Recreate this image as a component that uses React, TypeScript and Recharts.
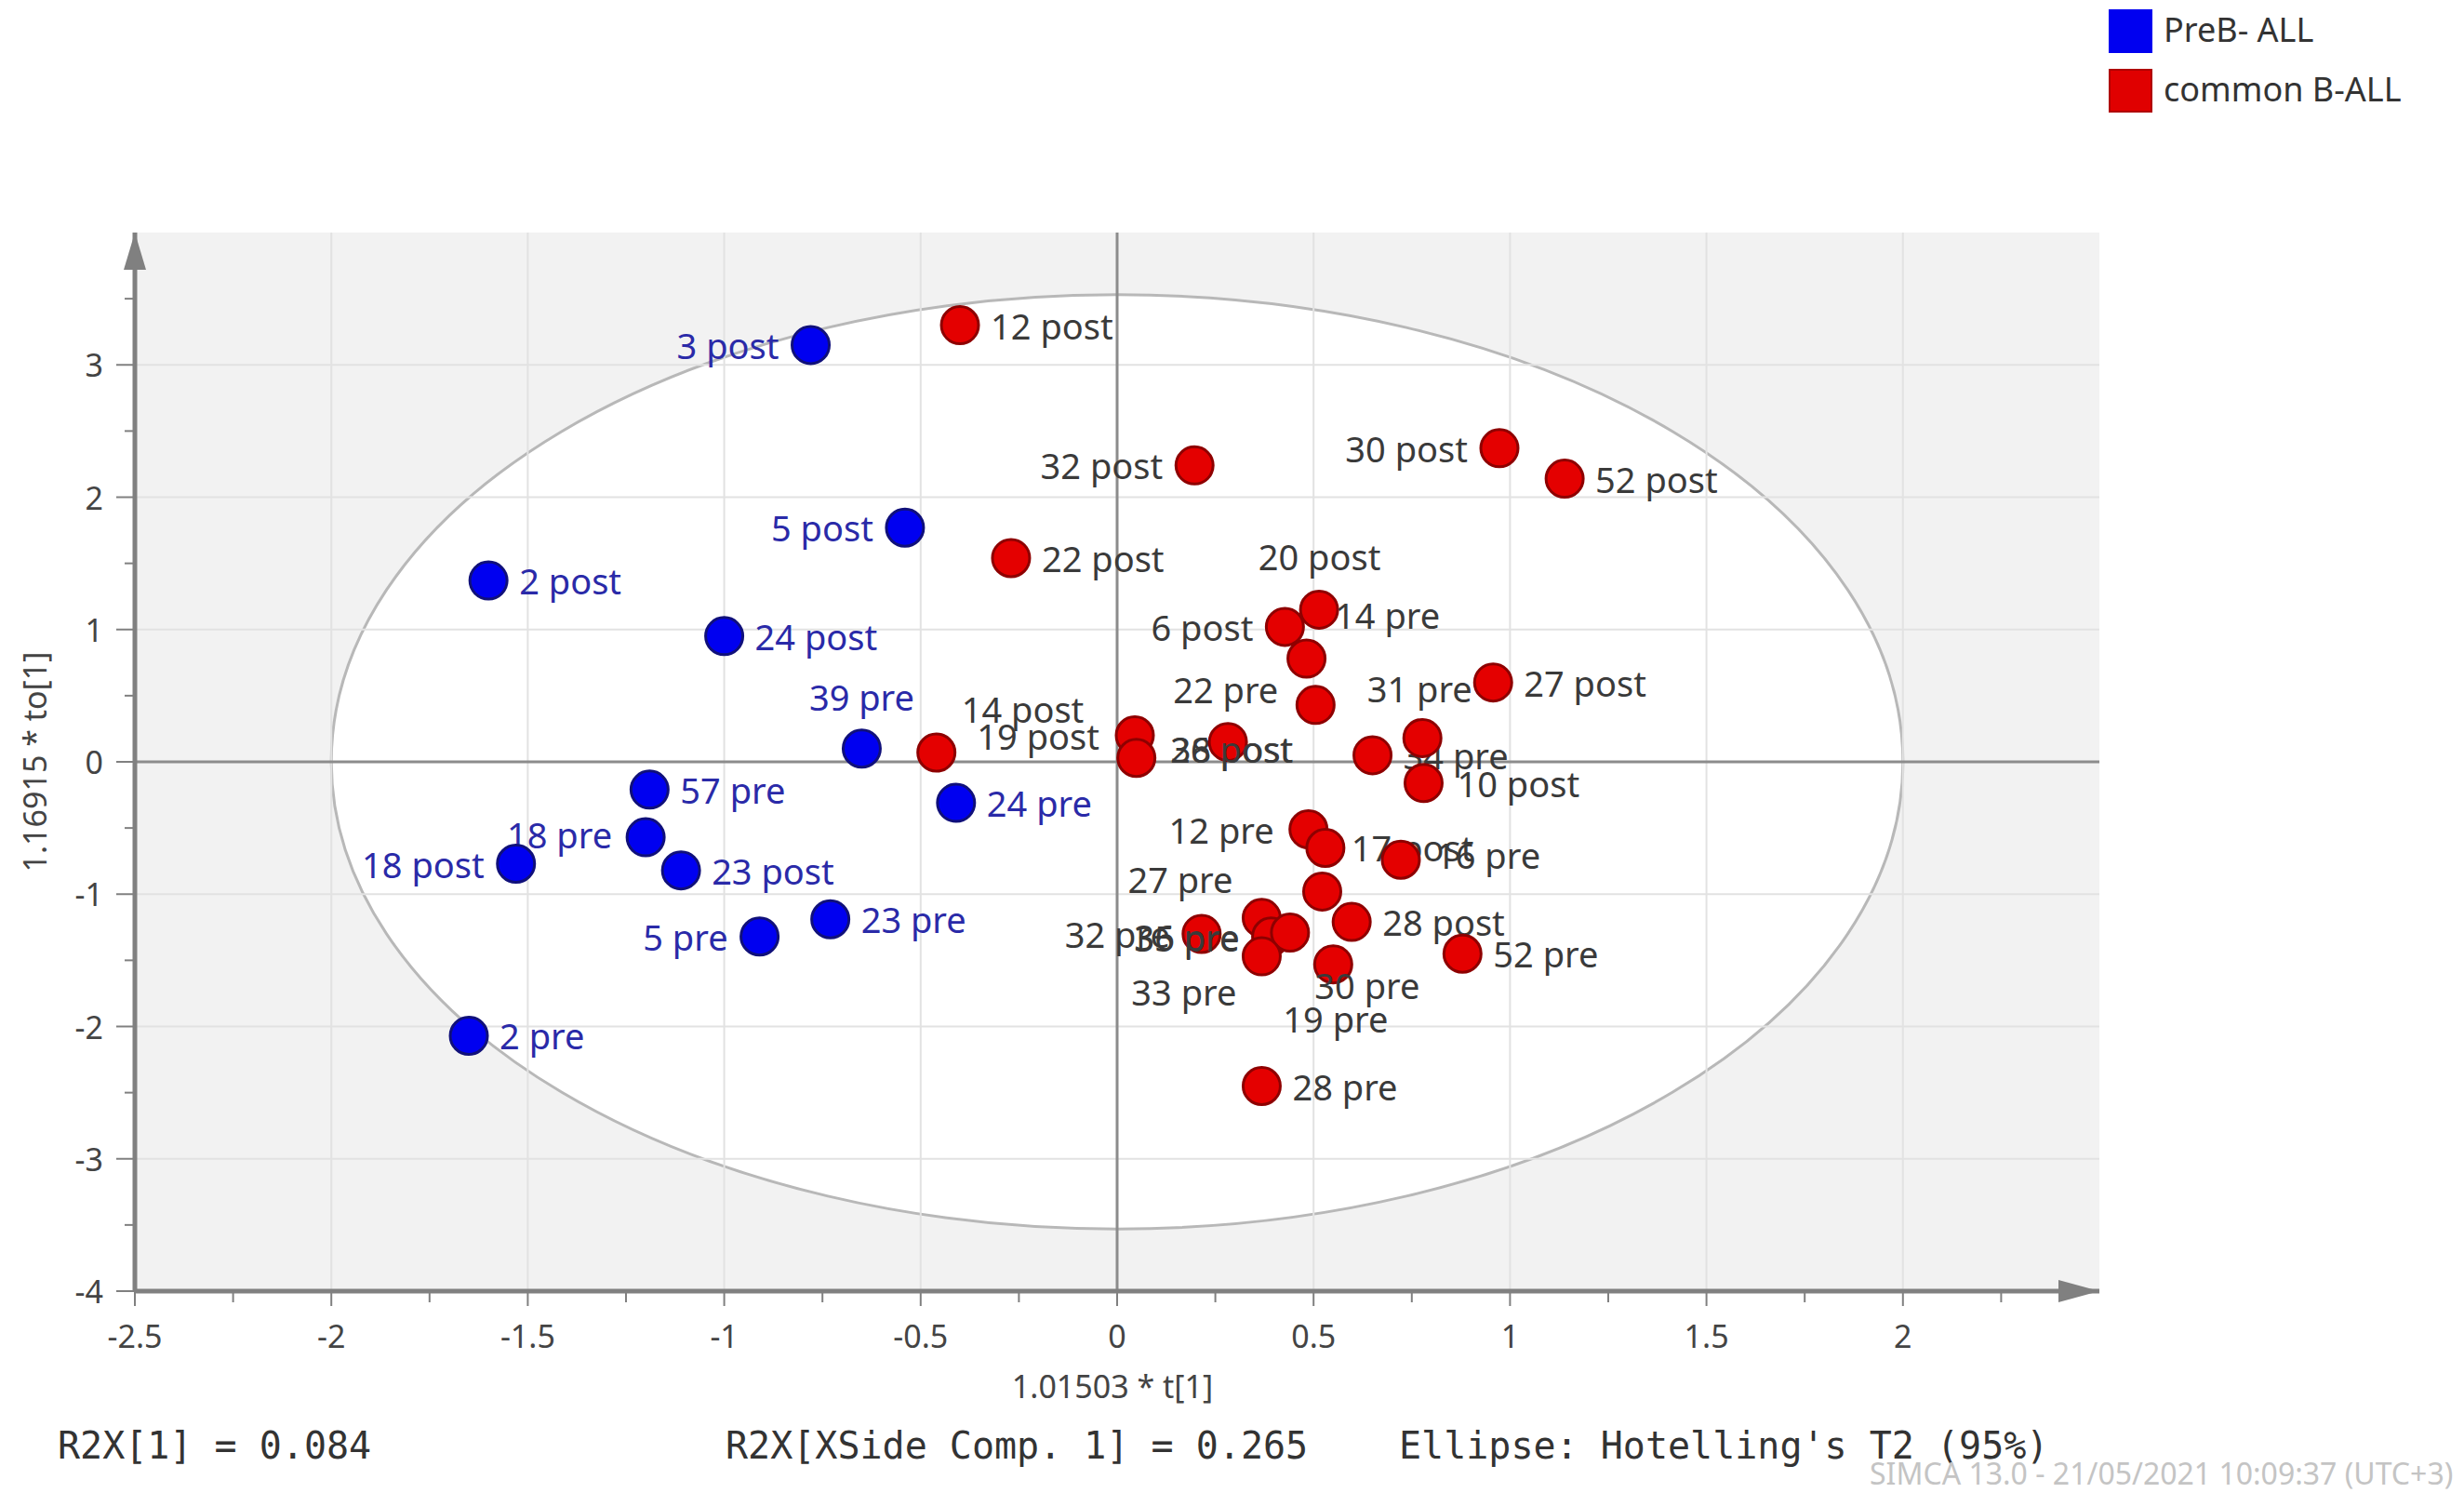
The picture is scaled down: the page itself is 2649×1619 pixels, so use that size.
import {
  ScatterChart,
  Scatter,
  XAxis,
  YAxis,
  ReferenceLine,
  ReferenceArea,
  ReferenceDot,
} from "recharts";

// PreB- ALL (blue)
const preBNames = ["3 post", "5 post", "2 post", "24 post", "39 pre", "57 pre", "18 pre", "18 post", "23 post", "24 pre", "23 pre", "5 pre", "2 pre"];
const preBX = [-0.78, -0.54, -1.6, -1.0, -0.65, -1.19, -1.2, -1.53, -1.11, -0.41, -0.73, -0.91, -1.65];
const preBY = [3.15, 1.77, 1.37, 0.95, 0.1, -0.21, -0.57, -0.77, -0.82, -0.31, -1.19, -1.32, -2.07];

// common B-ALL (red)
const commonNames = [
  "12 post", "32 post", "30 post", "52 post", "22 post", "14 pre", "6 post", "20 post",
  "22 pre", "27 post", "14 post", "19 post", "38 post", "26 post", "34 pre", "31 pre",
  "10 post", "12 pre", "17 post", "16 pre", "27 pre", "28 post", "32 pre", "35 pre",
  "36 pre", "19 pre", "33 pre", "30 pre", "52 pre", "28 pre",
];
const commonX = [
  -0.4, 0.197, 0.973, 1.139, -0.27, 0.514, 0.427, 0.482,
  0.505, 0.957, -0.46, 0.045, 0.049, 0.282, 0.65, 0.777,
  0.78, 0.487, 0.53, 0.722, 0.522, 0.597, 0.215, 0.368,
  0.392, 0.44, 0.368, 0.55, 0.879, 0.368,
];
const commonY = [
  3.3, 2.24, 2.37, 2.14, 1.54, 1.15, 1.02, 0.78,
  0.43, 0.6, 0.07, 0.2, 0.03, 0.15, 0.05, 0.18,
  -0.16, -0.51, -0.65, -0.74, -0.98, -1.21, -1.3, -1.18,
  -1.32, -1.29, -1.47, -1.53, -1.45, -2.45,
];

const xTicks = [-2.5, -2.25, -2, -1.75, -1.5, -1.25, -1, -0.75, -0.5, -0.25, 0, 0.25, 0.5, 0.75, 1, 1.25, 1.5, 1.75, 2, 2.25];
const xTickLabels = [-2.5, -2, -1.5, -1, -0.5, 0, 0.5, 1, 1.5, 2];
const yTicks = [-4, -3.5, -3, -2.5, -2, -1.5, -1, -0.5, 0, 0.5, 1, 1.5, 2, 2.5, 3, 3.5];
const yTickLabels = [-4, -3, -2, -1, 0, 1, 2, 3];
const xGrid = [-2, -1.5, -1, -0.5, 0.5, 1, 1.5, 2];
const yGrid = [-3, -2, -1, 1, 2, 3];
const xDomain = [-2.5, 2.5];
const yDomain = [-4, 4];
// Hotelling's T2 (95%) ellipse half-axes
const ellipseA = 2.0;
const ellipseB = 3.53;

const preB = preBNames.map((name, i) => ({ name, x: preBX[i], y: preBY[i] }));
const common = commonNames.map((name, i) => ({ name, x: commonX[i], y: commonY[i] }));

// where each point label sits, relative to its dot: [anchor, dx, dy]
type Spot = [string, number, number];
const RIGHT: Spot = ["start", 33, 0];
const LEFT: Spot = ["end", -34, 0];
const labelSpots: Record<string, Spot> = {
  "3 post": LEFT,
  "5 post": LEFT,
  "39 pre": ["middle", 0, -56],
  "18 pre": ["end", -36, -3],
  "18 post": LEFT,
  "5 pre": LEFT,
  "32 post": LEFT,
  "30 post": LEFT,
  "20 post": ["middle", 14, -110],
  "14 pre": ["start", 17, 6],
  "6 post": LEFT,
  "22 pre": ["end", -40, -17],
  "31 pre": ["middle", -3, -53],
  "14 post": ["start", 27, -47],
  "19 post": ["end", -38, 0],
  "38 post": ["start", 37, -10],
  "26 post": ["start", -62, 7],
  "10 post": ["start", 36, 0],
  "12 pre": ["end", -37, 0],
  "17 post": ["start", 28, 0],
  "16 pre": ["start", 37, -5],
  "27 pre": ["end", -96, -13],
  "35 pre": ["end", -24, 21],
  "36 pre": LEFT,
  "32 pre": LEFT,
  "19 pre": ["middle", 49, 92],
  "33 pre": ["end", -27, 38],
  "30 pre": ["start", -20, 22],
};

const FONT = "'Noto Sans', 'Open Sans', sans-serif";
const MONO = "'DejaVu Sans Mono', 'Liberation Mono', monospace";

const makeDot = (fill: string, stroke: string, textColor: string) => (props: any) => {
  const { cx, cy, payload } = props;
  const spot = labelSpots[payload.name] ?? RIGHT;
  return (
    <g>
      <circle cx={cx} cy={cy} r={20} fill={fill} stroke={stroke} strokeWidth={3} />
      <text
        x={cx + spot[1]}
        y={cy + spot[2]}
        textAnchor={spot[0] as any}
        dominantBaseline="central"
        fontFamily={FONT}
        fontSize={38}
        fill={textColor}
      >
        {payload.name}
      </text>
    </g>
  );
};

const EllipseShape = (props: any) => {
  const { x, y, width, height } = props;
  const rx = Math.abs(width) / 2;
  const ry = Math.abs(height) / 2;
  const cx = Math.min(x, x + width) + rx;
  const cy = Math.min(y, y + height) + ry;
  const kx = rx / ellipseA;
  const ky = ry / ellipseB;
  const L = cx + xDomain[0] * kx;
  const R = cx + xDomain[1] * kx;
  const T = cy - yDomain[1] * ky;
  const B = cy - yDomain[0] * ky;
  const d =
    `M${L},${T}H${R}V${B}H${L}Z ` +
    `M${cx - rx},${cy} a${rx},${ry} 0 1,0 ${2 * rx},0 a${rx},${ry} 0 1,0 ${-2 * rx},0 Z`;
  return (
    <g>
      <path d={d} fill="rgba(0,0,0,0.05)" fillRule="evenodd" />
      <ellipse cx={cx} cy={cy} rx={rx} ry={ry} fill="none" stroke="#b8b8b8" strokeWidth={3} />
    </g>
  );
};

const XTick = (props: any) => {
  const { x, y, payload } = props;
  const major = xTickLabels.includes(payload.value);
  return (
    <g>
      <line x1={x} x2={x} y1={y} y2={y + (major ? 16 : 12)} stroke="#808080" strokeWidth={2} />
      {major && (
        <text x={x} y={y + 48} textAnchor="middle" dominantBaseline="central" fontFamily={FONT} fontSize={34} fill="#444">
          {String(payload.value)}
        </text>
      )}
    </g>
  );
};

const YTick = (props: any) => {
  const { x, y, payload } = props;
  const major = yTickLabels.includes(payload.value);
  return (
    <g>
      <line x1={x} x2={x - (major ? 20 : 11)} y1={y} y2={y} stroke="#808080" strokeWidth={2} />
      {major && (
        <text x={x - 34} y={y} textAnchor="end" dominantBaseline="central" fontFamily={FONT} fontSize={34} fill="#444">
          {String(payload.value)}
        </text>
      )}
    </g>
  );
};

const UpArrow = (props: any) => (
  <path d={`M${props.cx},${props.cy} l-12,40 l24,0 Z`} fill="#808080" />
);
const RightArrow = (props: any) => (
  <path d={`M${props.cx},${props.cy} l-44,-12 l0,24 Z`} fill="#808080" />
);

const abs = (left: number, top: number, extra: any = {}) => ({
  position: "absolute" as const,
  left,
  top,
  whiteSpace: "nowrap" as const,
  ...extra,
});

const App = () => {
  return (
    <div style={{ position: "relative", width: 2640, height: 1600, background: "#fff" }}>
      <ScatterChart width={2640} height={1600} margin={{ top: 242, right: 391, bottom: 120, left: 37 }}>
        <ReferenceArea
          x1={-ellipseA}
          x2={ellipseA}
          y1={-ellipseB}
          y2={ellipseB}
          shape={EllipseShape}
          ifOverflow="visible"
        />
        {xGrid.map((v) => (
          <ReferenceLine key={"gx" + v} x={v} stroke="#e2e2e2" strokeWidth={2} />
        ))}
        {yGrid.map((v) => (
          <ReferenceLine key={"gy" + v} y={v} stroke="#e2e2e2" strokeWidth={2} />
        ))}
        <ReferenceLine x={0} stroke="#8c8c8c" strokeWidth={3} />
        <ReferenceLine y={0} stroke="#8c8c8c" strokeWidth={3} />
        <XAxis
          type="number"
          dataKey="x"
          domain={xDomain}
          ticks={xTicks}
          interval={0}
          allowDataOverflow
          height={100}
          tickSize={0}
          tickMargin={0}
          tickLine={false}
          tick={<XTick />}
          axisLine={{ stroke: "#808080", strokeWidth: 5 }}
        />
        <YAxis
          type="number"
          dataKey="y"
          domain={yDomain}
          ticks={yTicks}
          interval={0}
          allowDataOverflow
          width={100}
          tickSize={0}
          tickMargin={0}
          tickLine={false}
          tick={<YTick />}
          axisLine={{ stroke: "#808080", strokeWidth: 5 }}
        />
        <ReferenceDot x={-2.5} y={4} r={1} shape={UpArrow} ifOverflow="visible" />
        <ReferenceDot x={2.5} y={-4} r={1} shape={RightArrow} ifOverflow="visible" />
        <Scatter
          name="PreB- ALL"
          data={preB}
          isAnimationActive={false}
          shape={makeDot("#0000f0", "#10107a", "#2a2aa8")}
        />
        <Scatter
          name="common B-ALL"
          data={common}
          isAnimationActive={false}
          shape={makeDot("#e40000", "#8e0000", "#3a3a3a")}
        />
      </ScatterChart>

      {/* legend */}
      <div style={abs(2259, 2, { width: 47, height: 47, background: "#0000f0" })} />
      <div style={abs(2259, 66, { width: 47, height: 47, background: "#e00000", boxShadow: "inset 0 0 0 2px #b00000" })} />
      <div style={abs(2318, 2, { fontFamily: FONT, fontSize: 36, lineHeight: "44px", color: "#333" })}>PreB- ALL</div>
      <div style={abs(2318, 66, { fontFamily: FONT, fontSize: 36, lineHeight: "44px", color: "#333" })}>common B-ALL</div>

      {/* axis titles */}
      <div style={abs(988, 1462, { width: 400, textAlign: "center", fontFamily: FONT, fontSize: 34, lineHeight: "40px", color: "#444" })}>
        1.01503 * t[1]
      </div>
      <div
        style={abs(-171, 791, {
          width: 400,
          textAlign: "center",
          fontFamily: FONT,
          fontSize: 34,
          lineHeight: "40px",
          color: "#444",
          transform: "rotate(-90deg)",
        })}
      >
        1.16915 * to[1]
      </div>

      {/* footer statistics */}
      <div style={abs(54, 1524, { fontFamily: MONO, fontSize: 40, lineHeight: "44px", color: "#333" })}>R2X[1] = 0.084</div>
      <div style={abs(772, 1524, { fontFamily: MONO, fontSize: 40, lineHeight: "44px", color: "#333" })}>R2X[XSide Comp. 1] = 0.265</div>
      <div style={abs(1496, 1524, { fontFamily: MONO, fontSize: 40, lineHeight: "44px", color: "#333" })}>Ellipse: Hotelling's T2 (95%)</div>
      <div style={abs(2002, 1558, { fontFamily: FONT, fontSize: 32, lineHeight: "36px", color: "#c4c4c4" })}>
        SIMCA 13.0 - 21/05/2021 10:09:37 (UTC+3)
      </div>
    </div>
  );
};

export default App;
